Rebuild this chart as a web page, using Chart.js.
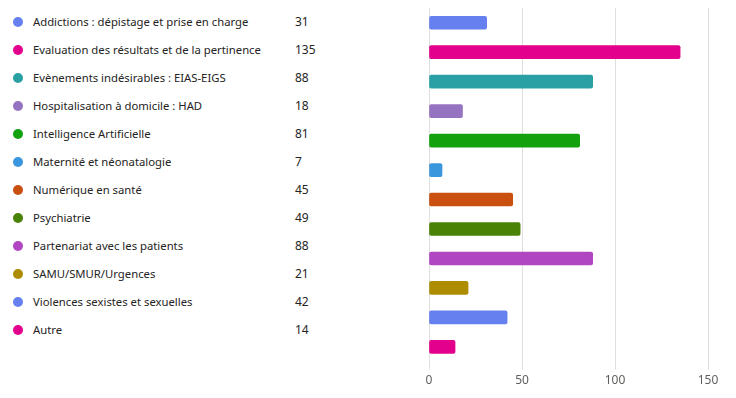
<!DOCTYPE html>
<html><head><meta charset="utf-8">
<script src="https://cdn.jsdelivr.net/npm/chart.js@4"></script>
<style>
html,body{margin:0;padding:0;background:#fff;width:736px;height:398px;overflow:hidden;font-family:"Segoe UI","Noto Sans",sans-serif;}
#wrap{position:relative;width:736px;height:398px;}
#legend{position:absolute;left:0;top:0;width:330px;}
.row{position:absolute;left:0;height:20px;width:330px;font-size:11.3px;color:#252423;line-height:20px;}
.dot{position:absolute;left:13px;top:5px;width:10px;height:10px;border-radius:50%;}
.lab{position:absolute;left:33px;top:0;white-space:nowrap;}
.val{position:absolute;left:295px;top:0;font-size:12px;}
canvas{position:absolute;left:0;top:0;}
</style></head>
<body><div id="wrap"><div id="legend"></div><canvas id="c" width="736" height="398"></canvas></div>
<script>
const categories = ["Addictions : dépistage et prise en charge","Evaluation des résultats et de la pertinence","Evènements indésirables : EIAS-EIGS","Hospitalisation à domicile : HAD","Intelligence Artificielle","Maternité et néonatalogie","Numérique en santé","Psychiatrie","Partenariat avec les patients","SAMU/SMUR/Urgences","Violences sexistes et sexuelles","Autre"];
const values = [31,135,88,18,81,7,45,49,88,21,42,14];
const colors = ["#6780f0","#e3008c","#2aa0a4","#9673c1","#13a10e","#3a96dd","#ca5010","#498205","#b146c2","#ae8c00","#6780f0","#e3008c"];
const xTicks = [0,50,100,150];

const leg = document.getElementById('legend');
categories.forEach((c,i)=>{
  const r=document.createElement('div');r.className='row';r.style.top=(12+i*28)+'px';
  r.innerHTML='<span class="dot" style="background:'+colors[i]+'"></span><span class="lab"></span><span class="val"></span>';
  r.querySelector('.lab').textContent=c;r.querySelector('.val').textContent=values[i];
  leg.appendChild(r);
});

new Chart(document.getElementById('c'),{
  type:'bar',
  data:{labels:categories,datasets:[{data:values,backgroundColor:colors,borderColor:colors,borderWidth:0,borderRadius:2,borderSkipped:false,barThickness:13}]},
  options:{
    indexAxis:'y',responsive:false,animation:false,
    layout:{padding:{left:429,right:28,top:8,bottom:6}},
    plugins:{legend:{display:false},tooltip:{enabled:false}},
    scales:{
      y:{display:false},
      x:{min:0,max:150,afterBuildTicks:(a)=>{a.ticks=xTicks.map(v=>({value:v}));},
        grid:{color:'#e1dfdd',drawTicks:true,tickLength:8},
        border:{display:false},
        ticks:{color:'#605e5c',font:{family:'"Segoe UI","Noto Sans",sans-serif',size:12},padding:4}}
    }
  }
});
</script></body></html>
